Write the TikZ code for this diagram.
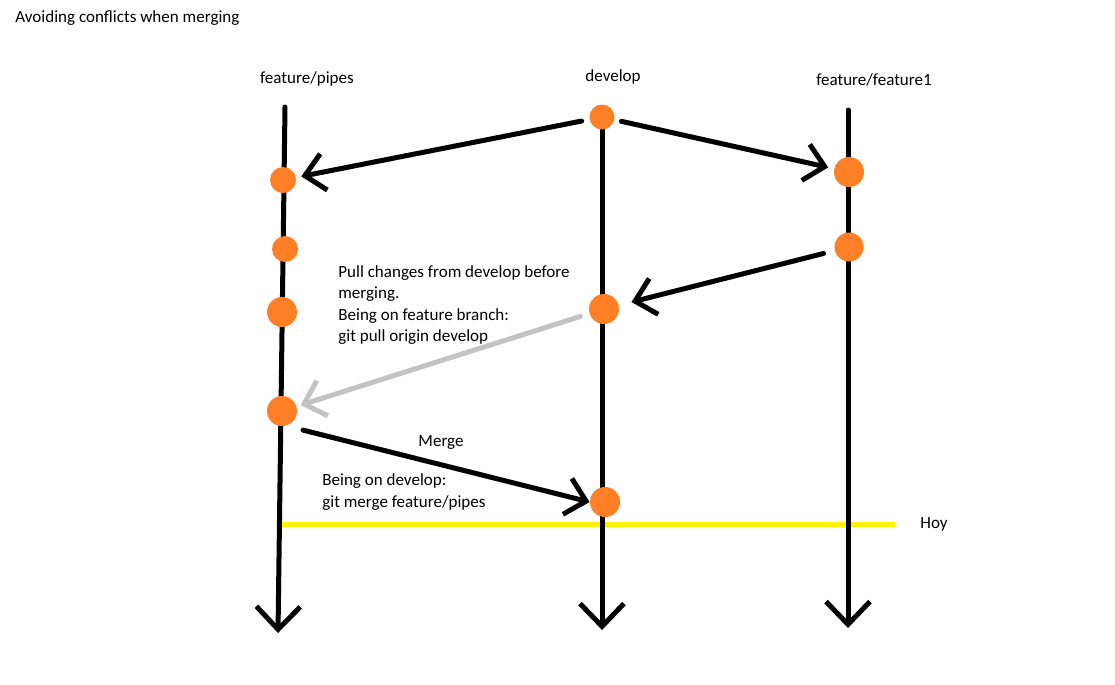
\documentclass[tikz,border=0pt]{standalone}
\usepackage{fontspec}
\setmainfont{Carlito}
\usetikzlibrary{arrows.meta}
\definecolor{arancio}{RGB}{255,127,39}
\definecolor{giallo}{RGB}{255,242,0}
\definecolor{grigio}{RGB}{195,195,195}
\tikzset{
  commit/.style={circle,fill=arancio,inner sep=0pt,minimum size=#1},
  commit/.default=0.52cm,
  ramo/.style={line width=0.1cm,line cap=round,-{Straight Barb[length=13pt,width=25pt]}},
  freccia/.style={line width=0.1cm,line cap=round,-{Straight Barb[length=11pt,width=21pt]}},
  oggi/.style={line width=0.1cm,giallo},
  testo/.style={font=\fontsize{9.7}{12.1}\selectfont,inner sep=0pt}
}
\begin{document}
\begin{tikzpicture}[x=0.02cm,y=-0.02cm]
\useasboundingbox (0,0) rectangle (1115,684);
% Titolo e nomi dei rami
\draw(15,18)node[testo,anchor=west](titolo){Avoiding conflicts when merging}
     (307,79)node[testo](nome pipes){feature/pipes}
     (613,77)node[testo](nome develop){develop}
     (874,80)node[testo](nome feature1){feature/feature1};

% Linea di oggi
\coordinate(hoy start) at (278,524);
\coordinate(hoy end) at (895,524);
\draw[oggi](hoy start)--(hoy end);
\draw(934,524)node[testo](hoy){Hoy};

% Rami
\coordinate(pipes top) at (285,107);
\coordinate(pipes end) at (278,633);
\coordinate(develop top) at (602,117);
\coordinate(develop end) at (602,630);
\coordinate(feature1 top) at (848,110);
\coordinate(feature1 end) at (848,628);
\draw[ramo](pipes top)--(pipes end);
\draw[ramo](develop top)--(develop end);
\draw[ramo](feature1 top)--(feature1 end);

% Commit feature/pipes
\draw(283,180)node[commit](pipes1){}
     (285,249)node[commit](pipes2){}
     (282,312)node[commit=0.6cm](pipes3){}
     (282,411)node[commit=0.6cm](pipes4){}
     % Commit develop
     (602,117)node[commit=0.5cm](dev1){}
     (604,309)node[commit=0.6cm](dev2){}
     (605,502)node[commit=0.6cm](dev3){}
     % Commit feature/feature1
     (849,172)node[commit=0.6cm](feat1){}
     (849,247)node[commit=0.58cm](feat2){};

% Freccia da develop a feature/pipes
\draw[freccia,shorten <=4.5pt,shorten >=3pt](dev1)--(pipes1);
% Freccia da develop a feature/feature1
\draw[freccia,shorten <=4pt,shorten >=3.4pt](dev1)--(feat1);
% Freccia da feature/feature1 a develop
\draw[freccia,shorten <=6.5pt,shorten >=7.4pt](feat2)--(dev2);
% Freccia grigia: pull da develop
\draw[freccia,grigio,shorten <=5.4pt,shorten >=2.3pt](dev2)--(pipes4);
% Freccia di merge
\draw[freccia,shorten <=10pt](pipes4.-75)--(dev3.west);

% Note
\draw(338,305)node[testo,anchor=west,align=left](nota pull){Pull changes from develop before\\merging.\\Being on feature branch:\\git pull origin develop}
     (441,442)node[testo](nota merge){Merge}
     (322,492)node[testo,anchor=west,align=left](nota develop){Being on develop:\\git merge feature/pipes};
\end{tikzpicture}
\end{document}
